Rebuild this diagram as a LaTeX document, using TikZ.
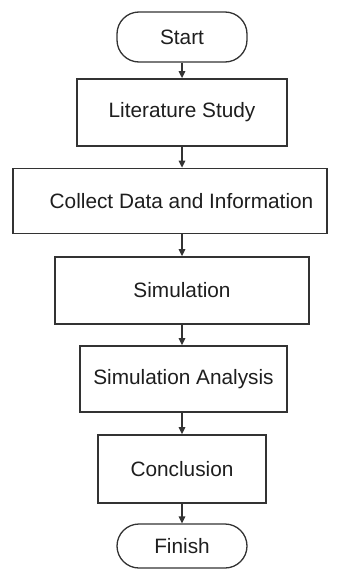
\documentclass[tikz,border=0pt]{standalone}
\usepackage{fontspec}
\setmainfont{Liberation Sans}
\usetikzlibrary{arrows.meta}
\definecolor{ln}{HTML}{333333}
\definecolor{tx}{HTML}{1E1E1E}
\begin{document}
\begin{tikzpicture}[x=1pt,y=-1pt,
  box/.style={draw=ln,line width=1.8pt,fill=white,inner sep=0pt,text=tx,font=\fontsize{20.8}{24}\selectfont},
  term/.style={draw=ln,line width=1.3pt,rounded corners=22pt,inner sep=0pt,text=tx,font=\fontsize{20.8}{24}\selectfont},
  conn/.style={draw=ln,line width=1.4pt,-{Triangle[length=7pt,width=6.5pt]}}]
\useasboundingbox (0,0) rectangle (340,570);
\node[term,minimum width=130pt,minimum height=50pt] (start) at (182,37) {Start};
\node[box,minimum width=210pt,minimum height=67pt] (lit) at (182,112.5) {Literature Study};
\node[box,minimum width=314pt,minimum height=65pt] (col) at (170,201) {\hspace*{23pt}Collect Data and Information};
\node[box,minimum width=254pt,minimum height=67pt] (sim) at (182,290.5) {Simulation};
\node[box,minimum width=207pt,minimum height=66pt] (ana) at (183.5,379) {Simulation Analysis};
\node[box,minimum width=168pt,minimum height=68pt] (con) at (182,469) {Conclusion};
\node[term,minimum width=130pt,minimum height=44pt] (fin) at (182,546) {Finish};
\draw[conn] (start.south) -- (start.south |- lit.north);
\draw[conn] (lit.south) -- (lit.south |- col.north);
\draw[conn] (lit.south |- col.south) -- (lit.south |- sim.north);
\draw[conn] (sim.south) -- (sim.south |- ana.north);
\draw[conn] (con.north |- ana.south) -- (con.north);
\draw[conn] (con.south) -- (fin.north);
\end{tikzpicture}
\end{document}
